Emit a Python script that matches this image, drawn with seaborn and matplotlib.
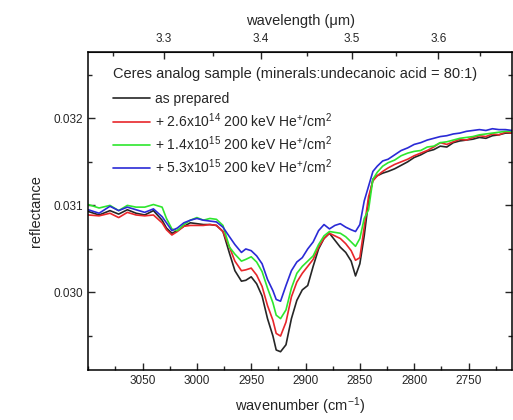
"""
Reflectance spectra of the Ceres analog sample before and after He+ irradiation.
"""

import matplotlib
matplotlib.use('Agg')
import matplotlib.pyplot as plt
from matplotlib.ticker import MultipleLocator, FixedLocator
import numpy as np
import pandas as pd
import seaborn as sns

wavenumber = [3100, 3090, 3080, 3072, 3064, 3056, 3048, 3040, 3032, 3028,
              3023, 3018, 3012, 3006, 3000, 2994, 2988, 2982, 2976, 2970,
              2965, 2959, 2955, 2950, 2945, 2940, 2935, 2930, 2927, 2923,
              2918, 2913, 2908, 2903, 2898, 2893, 2888, 2883, 2878, 2873,
              2868, 2863, 2858, 2854, 2850, 2846, 2842, 2838, 2834, 2829,
              2824, 2818, 2812, 2806, 2800, 2794, 2788, 2782, 2776, 2770,
              2764, 2758, 2752, 2746, 2740, 2734, 2728, 2722, 2716, 2710]

as_prepared = [0.03093, 0.03089, 0.03094, 0.03090, 0.03095, 0.03091, 0.03089, 0.03094, 0.03083, 0.03074,
               0.03068, 0.03071, 0.03076, 0.03080, 0.03079, 0.03078, 0.03078, 0.03077, 0.03070, 0.03045,
               0.03025, 0.03013, 0.03014, 0.03018, 0.03010, 0.02996, 0.02970, 0.02950, 0.02934, 0.02932,
               0.02940, 0.02970, 0.02991, 0.03003, 0.03008, 0.03030, 0.03050, 0.03062, 0.03068, 0.03060,
               0.03052, 0.03046, 0.03036, 0.03019, 0.03033, 0.03065, 0.03105, 0.03130, 0.03134, 0.03137,
               0.03139, 0.03142, 0.03146, 0.03150, 0.03155, 0.03158, 0.03162, 0.03164, 0.03168, 0.03167,
               0.03172, 0.03174, 0.03175, 0.03176, 0.03178, 0.03177, 0.03180, 0.03181, 0.03183, 0.03183]

dose_26e14 = [0.03089, 0.03088, 0.03091, 0.03086, 0.03092, 0.03089, 0.03088, 0.03089, 0.03080, 0.03072,
              0.03066, 0.03070, 0.03076, 0.03077, 0.03077, 0.03077, 0.03078, 0.03077, 0.03070, 0.03052,
              0.03036, 0.03025, 0.03026, 0.03028, 0.03020, 0.03007, 0.02985, 0.02968, 0.02953, 0.02950,
              0.02966, 0.02995, 0.03012, 0.03022, 0.03030, 0.03038, 0.03052, 0.03062, 0.03068, 0.03065,
              0.03062, 0.03056, 0.03048, 0.03037, 0.03040, 0.03075, 0.03110, 0.03128, 0.03134, 0.03139,
              0.03143, 0.03147, 0.03150, 0.03153, 0.03157, 0.03160, 0.03163, 0.03167, 0.03172, 0.03170,
              0.03173, 0.03176, 0.03175, 0.03178, 0.03180, 0.03179, 0.03182, 0.03181, 0.03184, 0.03183]

dose_14e15 = [0.03101, 0.03097, 0.03100, 0.03094, 0.03100, 0.03098, 0.03098, 0.03101, 0.03098, 0.03085,
              0.03073, 0.03071, 0.03078, 0.03083, 0.03086, 0.03083, 0.03085, 0.03084, 0.03077, 0.03052,
              0.03044, 0.03036, 0.03038, 0.03041, 0.03035, 0.03024, 0.03005, 0.02988, 0.02974, 0.02970,
              0.02980, 0.03005, 0.03022, 0.03030, 0.03036, 0.03042, 0.03055, 0.03065, 0.03070, 0.03069,
              0.03068, 0.03064, 0.03058, 0.03053, 0.03062, 0.03085, 0.03095, 0.03130, 0.03138, 0.03145,
              0.03149, 0.03152, 0.03157, 0.03160, 0.03162, 0.03163, 0.03167, 0.03168, 0.03172, 0.03173,
              0.03175, 0.03177, 0.03178, 0.03179, 0.03181, 0.03182, 0.03183, 0.03184, 0.03185, 0.03185]

dose_53e15 = [0.03095, 0.03091, 0.03099, 0.03094, 0.03098, 0.03095, 0.03092, 0.03096, 0.03087, 0.03080,
              0.03071, 0.03074, 0.03080, 0.03083, 0.03085, 0.03083, 0.03082, 0.03081, 0.03075, 0.03064,
              0.03055, 0.03046, 0.03050, 0.03048, 0.03042, 0.03033, 0.03015, 0.03002, 0.02992, 0.02990,
              0.03008, 0.03025, 0.03035, 0.03040, 0.03050, 0.03058, 0.03071, 0.03078, 0.03073, 0.03077,
              0.03079, 0.03075, 0.03072, 0.03070, 0.03078, 0.03105, 0.03122, 0.03139, 0.03145, 0.03151,
              0.03153, 0.03158, 0.03163, 0.03166, 0.03170, 0.03172, 0.03175, 0.03177, 0.03179, 0.03180,
              0.03182, 0.03183, 0.03185, 0.03186, 0.03187, 0.03186, 0.03188, 0.03187, 0.03187, 0.03186]

labels = ['as prepared',
          '+ 2.6x10$^{14}$ 200 keV He$^{+}$/cm$^{2}$',
          '+ 1.4x10$^{15}$ 200 keV He$^{+}$/cm$^{2}$',
          '+ 5.3x10$^{15}$ 200 keV He$^{+}$/cm$^{2}$']
colors = ['#262626', '#e8262a', '#2ee62e', '#2a2ad6']

wavelength_ticks = [3.3, 3.4, 3.5, 3.6]

# long-form table for seaborn
series = [as_prepared, dose_26e14, dose_14e15, dose_53e15]
df = pd.concat([pd.DataFrame({'wavenumber': wavenumber, 'reflectance': s, 'sample': lab})
                for s, lab in zip(series, labels)], ignore_index=True)

sns.set_style('ticks')
plt.rcParams['font.family'] = ['Liberation Sans', 'DejaVu Sans']
plt.rcParams['mathtext.fontset'] = 'custom'
plt.rcParams['mathtext.rm'] = 'Liberation Sans'
plt.rcParams['mathtext.it'] = 'Liberation Sans:italic'
plt.rcParams['mathtext.bf'] = 'Liberation Sans:bold'

fig = plt.figure(figsize=(5.13, 4.2), dpi=100)
ax = fig.add_axes([0.172, 0.119, 0.826, 0.757])

sns.lineplot(data=df, x='wavenumber', y='reflectance', hue='sample',
             palette=colors, linewidth=1.2, ax=ax, sort=False)

ax.set_xlim(3100, 2710)
ax.set_ylim(0.02911, 0.03276)

ax.xaxis.set_major_locator(FixedLocator([3050, 3000, 2950, 2900, 2850, 2800, 2750]))
ax.xaxis.set_minor_locator(MultipleLocator(25))
ax.yaxis.set_major_locator(FixedLocator([0.030, 0.031, 0.032]))
ax.yaxis.set_minor_locator(MultipleLocator(0.0005))
ax.yaxis.set_major_formatter(plt.FormatStrFormatter('%.3f'))
ax.tick_params(which='both', direction='in', right=True, labelsize=8.5, width=1)
ax.tick_params(which='major', length=5)
ax.tick_params(which='minor', length=3)

for sp in ax.spines.values():
    sp.set_visible(True)
    sp.set_linewidth(1.1)
    sp.set_color('black')

ax.set_xlabel('wavenumber (cm$^{-1}$)', fontsize=10.5, labelpad=6)
ax.set_ylabel('reflectance', fontsize=10.5, labelpad=8)

def wn_to_wl(w):
    with np.errstate(divide='ignore'):
        return 1e4 / np.asarray(w, dtype=float)

top = ax.secondary_xaxis('top', functions=(wn_to_wl, wn_to_wl))
top.xaxis.set_major_locator(FixedLocator(wavelength_ticks))
top.xaxis.set_minor_locator(FixedLocator([3.25, 3.35, 3.45, 3.55, 3.65]))
top.xaxis.set_major_formatter(plt.FormatStrFormatter('%.1f'))
top.tick_params(which='both', direction='in', labelsize=8.5, width=1, pad=5)
top.tick_params(which='major', length=5)
top.tick_params(which='minor', length=3)
top.set_xlabel('wavelength (μm)', fontsize=10.5, labelpad=6)

leg = ax.legend(title='Ceres analog sample (minerals:undecanoic acid = 80:1)',
                loc='upper left', bbox_to_anchor=(0.045, 0.972), frameon=False,
                fontsize=10, title_fontsize=10.5, alignment='left',
                handlelength=2.7, handletextpad=0.3, labelspacing=0.34,
                borderaxespad=0)
leg._legend_box.sep = 8.5
for line in leg.get_lines():
    line.set_linewidth(1.2)

fig.savefig('out.png', dpi=100)
